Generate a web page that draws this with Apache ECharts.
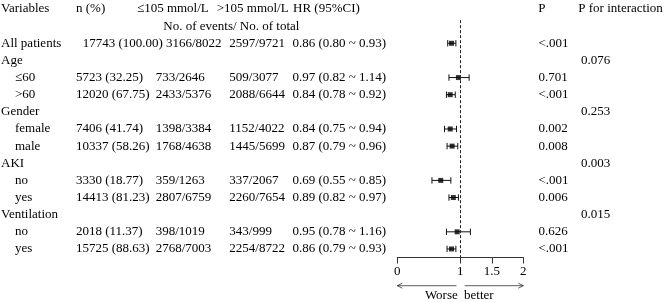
<!DOCTYPE html>
<html>
<head>
<meta charset="utf-8">
<script src="https://cdn.jsdelivr.net/npm/echarts@6/dist/echarts.min.js"></script>
<style>
  html, body { margin: 0; padding: 0; background: #fff; }
  #forest { width: 669px; height: 302px; }
</style>
</head>
<body>
<div id="forest"></div>
<script>
// table rows
const labels = ['All patients', 'Age', '≤60', '>60', 'Gender', 'female', 'male', 'AKI', 'no', 'yes', 'Ventilation', 'no', 'yes'];
const isSub = [false, false, true, true, false, true, true, false, true, true, false, true, true];
const nPct = ['17743 (100.00)', '', '5723 (32.25)', '12020 (67.75)', '', '7406 (41.74)', '10337 (58.26)', '', '3330 (18.77)', '14413 (81.23)', '', '2018 (11.37)', '15725 (88.63)'];
const lowGroup = ['3166/8022', '', '733/2646', '2433/5376', '', '1398/3384', '1768/4638', '', '359/1263', '2807/6759', '', '398/1019', '2768/7003'];
const highGroup = ['2597/9721', '', '509/3077', '2088/6644', '', '1152/4022', '1445/5699', '', '337/2067', '2260/7654', '', '343/999', '2254/8722'];
const hr = [0.86, null, 0.97, 0.84, null, 0.84, 0.87, null, 0.69, 0.89, null, 0.95, 0.86];
const ciLow = [0.80, null, 0.82, 0.78, null, 0.75, 0.79, null, 0.55, 0.82, null, 0.78, 0.79];
const ciHigh = [0.93, null, 1.14, 0.92, null, 0.94, 0.96, null, 0.85, 0.97, null, 1.16, 0.93];
const pValue = ['<.001', '', '0.701', '<.001', '', '0.002', '0.008', '', '<.001', '0.006', '', '0.626', '<.001'];
const pInteraction = ['', '0.076', '', '', '0.253', '', '', '0.003', '', '', '0.015', '', ''];
const headerTop = ['Variables', 'n (%)', '≤105 mmol/L', '>105 mmol/L', 'HR (95%CI)', 'P', 'P for interaction'];
const headerSub = 'No. of events/ No. of total';
const xTicks = [0, 1, 1.5, 2];
const refValue = 1;

const FONT = 'Liberation Serif';
const FS = 13;
const INK = '#000';
const HEAD_ROWS = 2;
const colX = { label: 1, sub: 15, n: 76, low: 155.7, high: 229.3, hr: 292.5, p: 538.5, pint: 581 };
const headX = [1, 76, 137, 216.7, 293, 538.3, 578.3];

function txt(x, y, s, align) {
  return {
    type: 'text', x: x, y: y,
    style: { text: s, fontFamily: FONT, fontSize: FS, fill: INK, align: align || 'left', verticalAlign: 'middle' }
  };
}

function renderHeader(params, api) {
  const y = api.coord([0, params.dataIndex])[1];
  if (params.dataIndex === 0) {
    return { type: 'group', children: headerTop.map((s, k) => txt(headX[k], y, s)) };
  }
  return { type: 'group', children: [txt(163.3, y, headerSub)] };
}

function renderRow(params, api) {
  const i = params.dataIndex;
  const y = api.coord([0, i + HEAD_ROWS])[1];
  const kids = [txt(isSub[i] ? colX.sub : colX.label, y, labels[i])];
  if (nPct[i]) {
    // first row was typed with single spaces in the source
    kids.push(txt(i === 0 ? 82.7 : colX.n, y, nPct[i]));
    kids.push(txt(i === 0 ? 166 : colX.low, y, lowGroup[i]));
    kids.push(txt(colX.high, y, highGroup[i]));
    kids.push(txt(colX.hr, y, hr[i].toFixed(2) + ' (' + ciLow[i].toFixed(2) + ' ~ ' + ciHigh[i].toFixed(2) + ')'));
    kids.push(txt(colX.p, y, pValue[i]));
  }
  if (pInteraction[i]) kids.push(txt(colX.pint, y, pInteraction[i]));
  return { type: 'group', children: kids };
}

function renderCI(params, api) {
  const row = api.value(2);
  const a = api.coord([api.value(0), row]);
  const b = api.coord([api.value(1), row]);
  const h = 3.2;
  const style = { stroke: '#111', lineWidth: 1 };
  return {
    type: 'group',
    children: [
      { type: 'line', shape: { x1: a[0], y1: a[1], x2: b[0], y2: b[1] }, style: style },
      { type: 'line', shape: { x1: a[0], y1: a[1] - h, x2: a[0], y2: a[1] + h }, style: style },
      { type: 'line', shape: { x1: b[0], y1: b[1] - h, x2: b[0], y2: b[1] + h }, style: style }
    ]
  };
}

const ciData = [];
const hrData = [];
hr.forEach((v, i) => {
  if (v == null) return;
  ciData.push([ciLow[i], ciHigh[i], i + HEAD_ROWS]);
  hrData.push([v, i + HEAD_ROWS]);
});
const lastRow = labels.length + HEAD_ROWS - 1;

const chart = echarts.init(document.getElementById('forest'));
const option = {
  animation: false,
  grid: { left: 397.3, width: 126, top: 0.43, height: 257.1 },
  xAxis: {
    type: 'value',
    position: 'bottom',
    min: 0,
    max: 2,
    axisLine: { show: true, onZero: false, lineStyle: { color: '#333', width: 1 } },
    axisTick: { show: true, length: 6, customValues: xTicks, lineStyle: { color: '#333' } },
    axisLabel: { customValues: xTicks, margin: 8, fontFamily: FONT, fontSize: FS, color: INK },
    splitLine: { show: false }
  },
  yAxis: {
    type: 'value',
    inverse: true,
    min: -0.5,
    max: lastRow + 0.5,
    show: false
  },
  series: [
    {
      type: 'custom',
      renderItem: renderHeader,
      data: [[0], [1]],
      encode: { x: -1, y: 0 },
      silent: true,
      z: 5
    },
    {
      type: 'custom',
      renderItem: renderRow,
      data: labels.map((s, i) => [i + HEAD_ROWS]),
      encode: { x: -1, y: 0 },
      silent: true,
      z: 5
    },
    {
      type: 'custom',
      renderItem: renderCI,
      data: ciData,
      encode: { x: [0, 1], y: 2 },
      silent: true,
      z: 3
    },
    {
      type: 'scatter',
      data: hrData,
      symbol: 'rect',
      symbolSize: 5,
      itemStyle: { color: '#000' },
      silent: true,
      z: 4,
      markLine: {
        silent: true,
        symbol: 'none',
        label: { show: false },
        lineStyle: { color: '#222', width: 1, type: [3, 2] },
        data: [[{ coord: [refValue, 0.65] }, { coord: [refValue, lastRow + 0.5] }]]
      }
    }
  ]
};
chart.setOption(option);

// arrows and direction labels under the axis
const px = v => chart.convertToPixel({ xAxisIndex: 0 }, v);
const ay = 285.7;
function arrow(from, to) {
  const x1 = px(from), x2 = px(to);
  const d = x2 > x1 ? -1 : 1;
  const st = { stroke: '#333', lineWidth: 0.8, fill: null };
  return [
    { type: 'line', shape: { x1: x1, y1: ay, x2: x2, y2: ay }, style: st },
    { type: 'polyline', shape: { points: [[x2 + d * 5, ay - 2.5], [x2, ay], [x2 + d * 5, ay + 2.5]] }, style: st }
  ];
}
chart.setOption({
  graphic: arrow(0.94, 0).concat(arrow(1.07, 2)).concat([
    { type: 'text', x: px(0.96), y: 296, style: { text: 'Worse', fontFamily: FONT, fontSize: FS, fill: INK, align: 'right', verticalAlign: 'middle' } },
    { type: 'text', x: px(1.06), y: 296, style: { text: 'better', fontFamily: FONT, fontSize: FS, fill: INK, align: 'left', verticalAlign: 'middle' } }
  ])
});
</script>
</body>
</html>
